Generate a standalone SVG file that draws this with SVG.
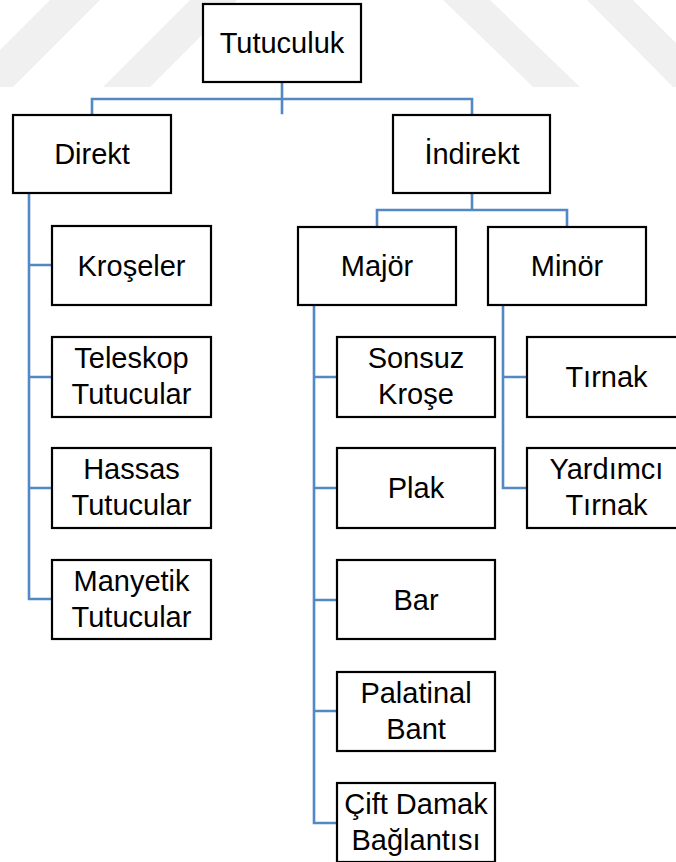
<svg xmlns="http://www.w3.org/2000/svg" width="676" height="862" viewBox="0 0 676 862">
  <style>
    .box { fill: #ffffff; stroke: #000000; stroke-width: 2.2; }
    .lbl { font-family: "Liberation Sans", Arial, sans-serif; font-size: 29px; fill: #000000; text-anchor: middle; }
    .wire { fill: none; stroke: #5288c4; stroke-width: 2.6; stroke-linecap: square; }
    .mark { fill: #f0f0f0; }
  </style>

  <rect x="0" y="0" width="676" height="862" fill="#ffffff"/>

  <!-- faint background emblem -->
  <g id="emblem">
    <polygon class="mark" points="50,0 100,0 13,87 -37,87"/>
    <polygon class="mark" points="190,0 237,0 150,87 103,87"/>
    <polygon class="mark" points="443,0 490,0 580,87 533,87"/>
    <polygon class="mark" points="587,0 633,0 720,87 673,87"/>
  </g>

  <!-- tree connectors -->
  <g id="connectors">
    <path class="wire" d="M282,82 V113 M92,115 V99 H472 V115"/>
    <path class="wire" d="M472,193 V210 M377,227 V210 H567 V227"/>
    <path class="wire" d="M29,193 V599 M29,265 H52 M29,377 H52 M29,488 H52 M29,599 H52"/>
    <path class="wire" d="M314,305 V823 M314,377 H337 M314,488 H337 M314,600 H337 M314,711 H337 M314,823 H337"/>
    <path class="wire" d="M503,305 V488 M503,377 H527 M503,488 H527"/>
  </g>

  <g id="tutuculuk">
    <rect class="box" x="203" y="4" width="158" height="78"/>
    <text class="lbl" x="282" y="53">Tutuculuk</text>
  </g>

  <g id="direkt">
    <rect class="box" x="13" y="115" width="158" height="78"/>
    <text class="lbl" x="92" y="164">Direkt</text>
  </g>

  <g id="indirekt">
    <rect class="box" x="393" y="115" width="157" height="78"/>
    <text class="lbl" x="472" y="164">İndirekt</text>
  </g>

  <g id="major">
    <rect class="box" x="298" y="227" width="158" height="78"/>
    <text class="lbl" x="377" y="276">Majör</text>
  </g>

  <g id="minor">
    <rect class="box" x="488" y="227" width="158" height="78"/>
    <text class="lbl" x="567" y="276">Minör</text>
  </g>

  <g id="kroseler">
    <rect class="box" x="52" y="226" width="159" height="79"/>
    <text class="lbl" x="131.5" y="276">Kroşeler</text>
  </g>

  <g id="teleskop">
    <rect class="box" x="52" y="337" width="159" height="80"/>
    <text class="lbl" x="131.5" y="368">Teleskop</text>
    <text class="lbl" x="131.5" y="404">Tutucular</text>
  </g>

  <g id="hassas">
    <rect class="box" x="52" y="448" width="159" height="80"/>
    <text class="lbl" x="131.5" y="479">Hassas</text>
    <text class="lbl" x="131.5" y="515">Tutucular</text>
  </g>

  <g id="manyetik">
    <rect class="box" x="52" y="560" width="159" height="79"/>
    <text class="lbl" x="131.5" y="591">Manyetik</text>
    <text class="lbl" x="131.5" y="627">Tutucular</text>
  </g>

  <g id="sonsuz-krose">
    <rect class="box" x="337" y="337" width="158" height="80"/>
    <text class="lbl" x="416" y="368">Sonsuz</text>
    <text class="lbl" x="416" y="404">Kroşe</text>
  </g>

  <g id="plak">
    <rect class="box" x="337" y="448" width="158" height="80"/>
    <text class="lbl" x="416" y="498">Plak</text>
  </g>

  <g id="bar">
    <rect class="box" x="337" y="560" width="158" height="79"/>
    <text class="lbl" x="416" y="610">Bar</text>
  </g>

  <g id="palatinal-bant">
    <rect class="box" x="337" y="672" width="158" height="79"/>
    <text class="lbl" x="416" y="703">Palatinal</text>
    <text class="lbl" x="416" y="739">Bant</text>
  </g>

  <g id="cift-damak">
    <rect class="box" x="337" y="783" width="158" height="79"/>
    <text class="lbl" x="416" y="814">Çift Damak</text>
    <text class="lbl" x="416" y="850">Bağlantısı</text>
  </g>

  <g id="tirnak">
    <rect class="box" x="527" y="337" width="159" height="80"/>
    <text class="lbl" x="606.5" y="387">Tırnak</text>
  </g>

  <g id="yardimci-tirnak">
    <rect class="box" x="527" y="448" width="159" height="80"/>
    <text class="lbl" x="606.5" y="479">Yardımcı</text>
    <text class="lbl" x="606.5" y="515">Tırnak</text>
  </g>
</svg>
